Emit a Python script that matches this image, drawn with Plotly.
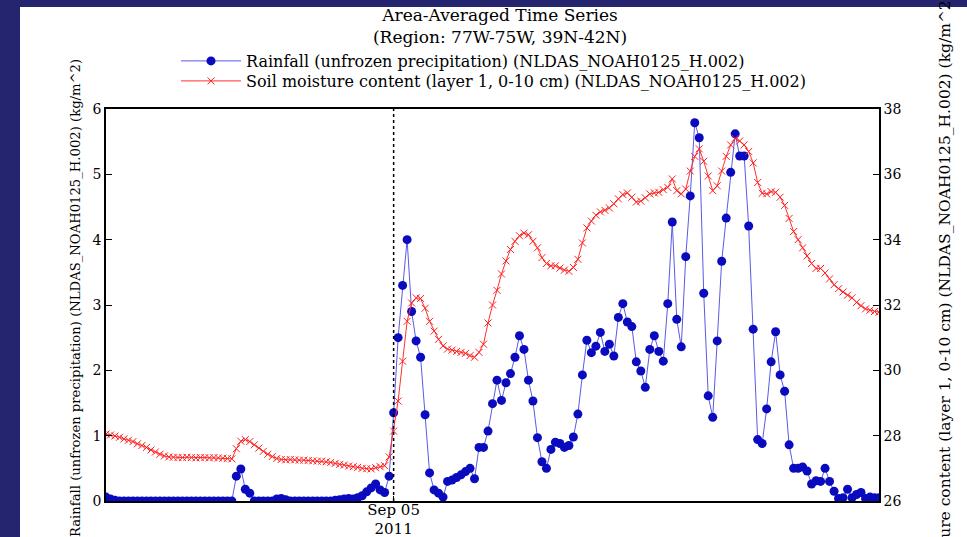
import pandas as pd
import plotly.graph_objects as go

# ---------------- data ----------------
START = "2011-09-02 08:00"
MARK_DATE = "2011-09-05 00:00"
TICK_TEXT = ["Sep 05<br>2011"]

rainfall = [
    0.06, 0.03, 0.01, 0, 0, 0, 0, 0, 0, 0,
    0, 0, 0, 0, 0, 0, 0, 0, 0, 0,
    0, 0, 0, 0, 0, 0, 0, 0, 0, 0.38,
    0.49, 0.18, 0.12, 0, 0, 0, 0, 0, 0.03, 0.04,
    0.02, 0, 0, 0, 0, 0, 0, 0, 0, 0,
    0, 0.01, 0.02, 0.03, 0.04, 0.03, 0.05, 0.08, 0.14, 0.20,
    0.26, 0.17, 0.13, 0.38, 1.35, 2.50, 3.30, 4.00, 2.90, 2.45,
    2.20, 1.32, 0.43, 0.17, 0.12, 0.06, 0.30, 0.32, 0.36, 0.40,
    0.45, 0.50, 0.34, 0.82, 0.82, 1.07, 1.49, 1.85, 1.54, 1.81,
    1.95, 2.20, 2.53, 2.32, 1.85, 1.53, 0.97, 0.60, 0.50, 0.79,
    0.90, 0.88, 0.82, 0.85, 0.98, 1.33, 1.93, 2.46, 2.27, 2.37,
    2.58, 2.29, 2.40, 2.22, 2.81, 3.02, 2.74, 2.67, 2.13, 1.99,
    1.74, 2.32, 2.53, 2.29, 2.14, 3.02, 4.27, 2.78, 2.36, 3.74,
    4.67, 5.79, 5.56, 3.18, 1.61, 1.28, 2.45, 3.67, 4.33, 5.03,
    5.62, 5.28, 5.28, 4.21, 2.63, 0.94, 0.88, 1.41, 2.13, 2.59,
    1.93, 1.68, 0.86, 0.50, 0.50, 0.52, 0.46, 0.26, 0.31, 0.30,
    0.50, 0.30, 0.15, 0.04, 0.05, 0.18, 0.05, 0.10, 0.13, 0.04,
    0.06, 0.05, 0.05,
]

soil_moisture = [
    28.05, 28.02, 27.99, 27.95, 27.90, 27.86, 27.82, 27.75, 27.70, 27.64,
    27.56, 27.50, 27.43, 27.38, 27.35, 27.34, 27.33, 27.33, 27.34, 27.33,
    27.32, 27.33, 27.33, 27.32, 27.33, 27.32, 27.31, 27.30, 27.29, 27.60,
    27.83, 27.88, 27.82, 27.72, 27.62, 27.52, 27.43, 27.36, 27.30, 27.27,
    27.26, 27.27, 27.26, 27.25, 27.25, 27.24, 27.23, 27.22, 27.22, 27.20,
    27.18, 27.15, 27.12, 27.10, 27.07, 27.05, 27.03, 27.00, 26.99, 26.98,
    27.02, 27.05, 27.08, 27.35, 28.14, 29.06, 30.28, 31.50, 32.06, 32.22,
    32.20, 31.90, 31.50, 31.20, 30.95, 30.75, 30.65, 30.62, 30.58, 30.55,
    30.52, 30.45, 30.40, 30.55, 30.80, 31.45, 32.00, 32.45, 32.95, 33.35,
    33.70, 33.95, 34.12, 34.20, 34.15, 33.95, 33.75, 33.45, 33.27, 33.20,
    33.20, 33.13, 33.07, 33.03, 33.15, 33.40, 33.90, 34.36, 34.57, 34.75,
    34.85, 34.90, 34.97, 35.10, 35.25, 35.38, 35.43, 35.30, 35.15, 35.18,
    35.28, 35.40, 35.43, 35.45, 35.53, 35.60, 35.86, 35.50, 35.40, 35.55,
    36.10, 36.55, 36.78, 36.40, 35.95, 35.50, 35.65, 36.10, 36.55, 36.90,
    37.10, 37.02, 36.90, 36.70, 36.35, 35.75, 35.42, 35.40, 35.47, 35.45,
    35.30, 35.05, 34.65, 34.25, 34.00, 33.75, 33.50, 33.27, 33.12, 33.12,
    32.98, 32.80, 32.62, 32.50, 32.40, 32.30, 32.22, 32.08, 31.98, 31.88,
    31.84, 31.80, 31.78,
]

times = pd.date_range(START, periods=len(rainfall), freq="h")

# ---------------- layout geometry ----------------
W, H = 967, 537
L, R, T, B = 106, 879, 109, 501
FONT = "DejaVu Serif"
NAVY = "#25256f"


def px_x(x):
    return (x - L) / (R - L)


def px_y(y):
    return (B - y) / (B - T)


fig = go.Figure()

fig.add_trace(go.Scatter(
    x=times, y=rainfall, mode="lines+markers",
    name="Rainfall (unfrozen precipitation) (NLDAS_NOAH0125_H.002)",
    line=dict(color="#5a5ae6", width=1),
    marker=dict(symbol="circle", size=9, color="#0a0abf"),
    yaxis="y", legend="legend",
))

fig.add_trace(go.Scatter(
    x=times, y=soil_moisture, mode="lines+markers",
    name="Soil moisture content (layer 1, 0-10 cm) (NLDAS_NOAH0125_H.002)",
    line=dict(color="#ff3030", width=1),
    marker=dict(symbol="x-thin", size=7, color="#ff2020",
                line=dict(color="#ff2020", width=1)),
    yaxis="y2", legend="legend2",
))

# dotted reference line at Sep 05
fig.add_shape(type="line", xref="x", yref="paper",
              x0=MARK_DATE, x1=MARK_DATE, y0=0, y1=1,
              line=dict(color="black", width=1.5, dash="dot"))

# dark frame strips of the screenshot
fig.add_shape(type="rect", xref="paper", yref="paper", layer="above",
              x0=px_x(-2), x1=px_x(20), y0=px_y(H + 2), y1=px_y(-2),
              fillcolor=NAVY, line=dict(width=0))
fig.add_shape(type="rect", xref="paper", yref="paper", layer="above",
              x0=px_x(-2), x1=px_x(W + 2), y0=px_y(7), y1=px_y(-2),
              fillcolor=NAVY, line=dict(width=0))

# left axis title (placed as rotated text so it stays inside the picture)
fig.add_annotation(text="Rainfall (unfrozen precipitation) (NLDAS_NOAH0125_H.002) (kg/m^2)",
                   xref="paper", yref="paper", textangle=-90,
                   x=px_x(75), y=px_y(298), xanchor="center", yanchor="middle",
                   showarrow=False,
                   font=dict(family=FONT, size=13.2, color="black"))

legend_common = dict(
    xref="container", yref="container",
    xanchor="left", yanchor="middle", bgcolor="rgba(0,0,0,0)",
    borderwidth=0, font=dict(family=FONT, size=16, color="black"),
    itemwidth=60,
)

fig.update_layout(
    width=W, height=H, autosize=False,
    margin=dict(l=L, r=W - R, t=T, b=H - B, pad=0, autoexpand=False),
    paper_bgcolor="white", plot_bgcolor="white",
    title=dict(text="Area-Averaged Time Series<br>(Region: 77W-75W, 39N-42N)",
               xref="container", yref="container",
               x=500 / W, y=1 - 21 / H, xanchor="center", yanchor="middle",
               font=dict(family=FONT, size=17, color="black")),
    showlegend=True,
    legend=dict(x=176 / W, y=1 - 61 / H, **legend_common),
    legend2=dict(x=176 / W, y=1 - 81 / H, **legend_common),
    font=dict(family=FONT, color="black"),
    xaxis=dict(
        type="date", range=[times[0], times[-1]],
        tickmode="array", tickvals=[MARK_DATE], ticktext=TICK_TEXT,
        ticks="inside", ticklen=5, tickcolor="black",
        showline=True, linecolor="black", linewidth=1.5, mirror=True,
        showgrid=False, zeroline=False, ticklabelstandoff=-6,
        tickfont=dict(family=FONT, size=15, color="black"),
    ),
    yaxis=dict(
        range=[0, 6], dtick=1, tick0=0,
        ticks="inside", ticklen=6, tickcolor="black",
        showline=True, linecolor="black", linewidth=1.5,
        showgrid=False, zeroline=False,
        tickfont=dict(family=FONT, size=14, color="black"),
    ),
    yaxis2=dict(
        range=[26, 38], dtick=2, tick0=26,
        overlaying="y", side="right",
        ticks="inside", ticklen=6, tickcolor="black",
        showline=True, linecolor="black", linewidth=1.5,
        showgrid=False, zeroline=False,
        tickfont=dict(family=FONT, size=14, color="black"),
        title=dict(text="Soil moisture content (layer 1, 0-10 cm) (NLDAS_NOAH0125_H.002) (kg/m^2)",
                   font=dict(family=FONT, size=15.5, color="black"), standoff=39),
    ),
)

fig.write_html(
    "out.html",
    config={"displayModeBar": False, "responsive": False},
    post_script="document.body.style.margin='0px';",
)
